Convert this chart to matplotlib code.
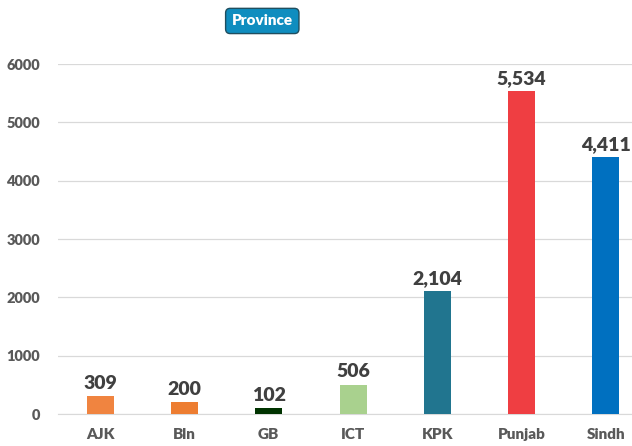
import matplotlib.pyplot as plt
import numpy as np

# Data
provinces = ["AJK", "Bln", "GB", "ICT", "KPK", "Punjab", "Sindh"]
counts = [309, 200, 102, 506, 2104, 5534, 4411]
bar_colors = ['#F08440', '#ED7D31', '#003300', '#A9D18E', '#21758F', '#EF3E42', '#0070C0']
y_ticks = [0, 1000, 2000, 3000, 4000, 5000, 6000]

plt.rcParams['font.family'] = ['Lato', 'DejaVu Sans']

fig = plt.figure(figsize=(6.32, 4.46), dpi=100)
ax = fig.add_axes([0.0918, 0.0717, 0.9082, 0.7848])

x = np.arange(len(provinces))
ax.grid(axis='y', color='#D9D9D9', linewidth=0.9, zorder=0)
ax.bar(x, counts, color=bar_colors, width=0.32, zorder=3)

for i in range(len(x)):
    ax.text(x[i], counts[i] + 70, f"{counts[i]:,}", ha='center', va='bottom',
            fontsize=14, fontweight='heavy', color='#404040', clip_on=False)

ax.set_xlim(-0.5, 6.31)
ax.set_ylim(0, 6000)
ax.set_yticks(y_ticks)
ax.set_yticklabels([str(t) for t in y_ticks], fontsize=10.5, fontweight='heavy', color='#595959')
ax.set_xticks(x)
ax.set_xticklabels(provinces, fontsize=11, fontweight='heavy', color='#595959')
ax.tick_params(axis='both', length=0)
ax.tick_params(axis='x', pad=10)
ax.tick_params(axis='y', pad=13)

for side in ['top', 'right', 'left']:
    ax.spines[side].set_visible(False)
ax.spines['bottom'].set_color('#D9D9D9')

fig.text(0.415, 0.953, "Province", ha='center', va='center', fontsize=11,
         fontweight='heavy', color='white',
         bbox=dict(boxstyle='round,pad=0.4,rounding_size=0.3', facecolor='#0F8DBF',
                   edgecolor='#1F4E5F', linewidth=1))

fig.savefig('out.png', dpi=100)
